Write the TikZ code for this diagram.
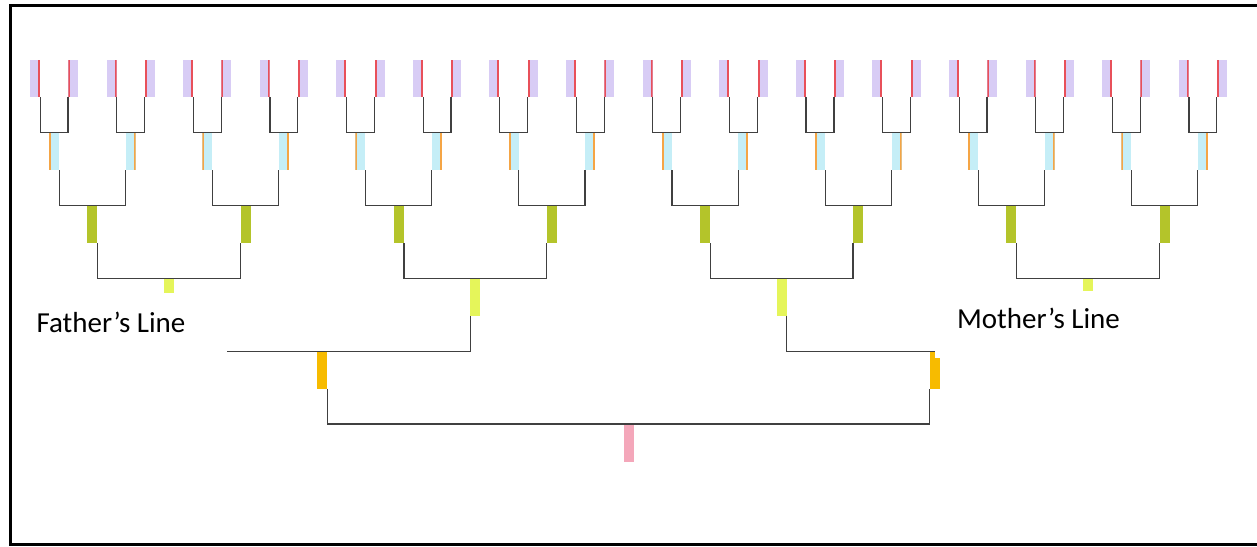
\documentclass[tikz,border=0pt]{standalone}
\usepackage{fontspec}
\setmainfont{Carlito}
\definecolor{lav}{RGB}{216,204,245}
\definecolor{redge}{RGB}{232,80,90}
\definecolor{cyanb}{RGB}{197,238,247}
\definecolor{oedge}{RGB}{245,165,69}
\definecolor{oliveb}{RGB}{180,196,42}
\definecolor{yelb}{RGB}{229,245,90}
\definecolor{orngb}{RGB}{247,187,0}
\definecolor{pinkb}{RGB}{244,167,186}
\definecolor{conn}{RGB}{64,64,64}
\tikzset{
  bar/.style={rectangle,inner sep=0pt,minimum width=10pt,minimum height=37.3pt,anchor=north,draw=none},
  edgeR/.style={path picture={\fill[#1] ([xshift=-2pt]path picture bounding box.south east) rectangle (path picture bounding box.north east);}},
  edgeL/.style={path picture={\fill[#1] (path picture bounding box.south west) rectangle ([xshift=2pt]path picture bounding box.north west);}},
  lev0-0/.style={bar,fill=lav,edgeR=redge},
  lev0-1/.style={bar,fill=lav,edgeL=redge},
  lev1-0/.style={bar,fill=cyanb,edgeL=oedge},
  lev1-1/.style={bar,fill=cyanb,edgeR=oedge},
  lev2-0/.style={bar,fill=oliveb},
  lev2-1/.style={bar,fill=oliveb},
  lev3-0/.style={bar,fill=yelb},
  lev3-1/.style={bar,fill=yelb},
  lev4-0/.style={bar,fill=orngb},
  lev4-1/.style={bar,fill=orngb},
  lev5-0/.style={bar,fill=pinkb},
  link/.style={draw=conn,line width=1.2pt},
  lineLabel/.style={fill=white,inner ysep=0pt,font=\fontsize{29}{34}\selectfont,anchor=base},
  frame/.style={draw=black,line width=3pt}
}
\begin{document}
\begin{tikzpicture}[x=1pt,y=-1pt]
\clip (0,0) rectangle (1257,546);
\fill[white] (0,0) rectangle (1257,546);
% bars
\foreach \l in {0,...,5} {
  \pgfmathtruncatemacro\n{2^(5-\l)-1}
  \foreach \k in {0,...,\n} {
    \pgfmathsetmacro\x{35+38.29*(\k*2^\l+(2^\l-1)/2)}
    \pgfmathsetmacro\y{59.5+72.9*\l}
    \pgfmathtruncatemacro\s{mod(\k,2)}
    \node[lev\l-\s] (b\l-\k) at (\x,\y) {};
  }
}
% connectors
\foreach \l in {1,...,5} {
  \pgfmathtruncatemacro\n{2^(5-\l)-1}
  \pgfmathtruncatemacro\lm{\l-1}
  \foreach \k in {0,...,\n} {
    \pgfmathtruncatemacro\a{2*\k}
    \pgfmathtruncatemacro\b{2*\k+1}
    \draw[link] (b\lm-\a.south east) |- (b\l-\k.north) -| (b\lm-\b.south west);
  }
}
% labels (white boxes cover part of the lines)
\node[lineLabel,inner xsep=42pt,text height=39pt,text depth=26pt] (father) at (111,332) {Father’s Line};
\node[lineLabel,inner xsep=22pt,text height=37.5pt,text depth=29.5pt] (mother) at (1038.5,328.5) {Mother’s Line};
% frame
\draw[frame] (1275,5.5) -- (10.5,5.5) -- (10.5,544.5) -- (1275,544.5);
\end{tikzpicture}
\end{document}
